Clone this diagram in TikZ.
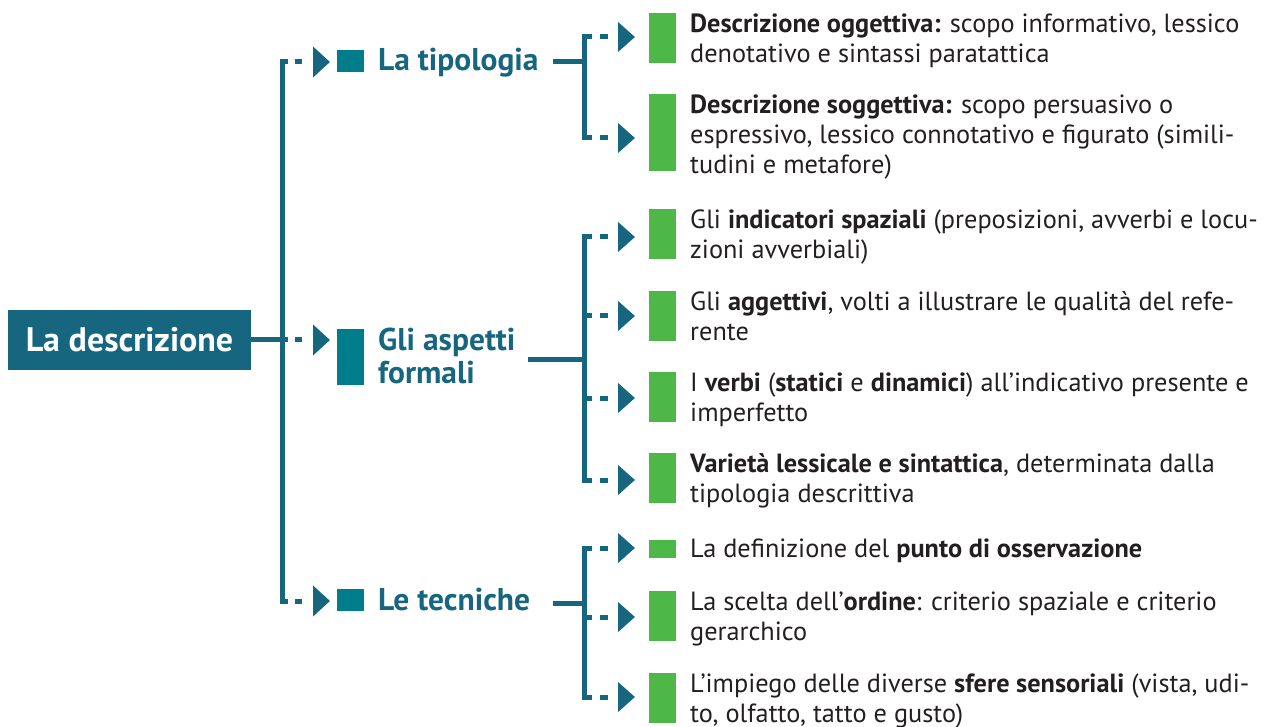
\documentclass[tikz,border=0pt]{standalone}
\usepackage{fontspec}
\setmainfont{PT Sans}
\usetikzlibrary{arrows.meta}
\definecolor{dblue}{RGB}{23,102,128}
\definecolor{sqteal}{RGB}{0,125,138}
\definecolor{bargreen}{RGB}{77,184,72}
\definecolor{txt}{RGB}{35,31,32}
\newcommand{\tstrut}{\rule{0pt}{22pt}}
\newcommand{\lstrut}{\rule{0pt}{27pt}}
\begin{document}
\begin{tikzpicture}[x=1pt,y=-1pt,
  conn/.style={draw=dblue, line width=5pt},
  ldash/.style={conn, dash pattern=on 6pt off 7pt on 7pt off 30pt, -{Triangle[length=17pt,width=30pt]}},
  rdash/.style={conn, dash pattern=on 8pt off 8pt on 8pt off 30pt, -{Triangle[length=17pt,width=29pt]}},
  bar/.style={fill=bargreen, minimum width=27pt, inner sep=0pt, anchor=north west},
  sq/.style={fill=sqteal, inner sep=0pt, minimum width=27pt, anchor=north west},
  item/.style={anchor=north west, inner sep=0pt, align=left, text=txt, font=\fontsize{26.3}{30}\selectfont},
  lab/.style={anchor=north west, inner sep=0pt, align=left, text=dblue, font=\bfseries\fontsize{31.5}{33}\selectfont},
]
\useasboundingbox (0,0) rectangle (1275,727);

% root
\node[fill=dblue, minimum width=243pt, minimum height=60pt, inner sep=0pt, text=white,
      font=\bfseries\fontsize{34}{38}\selectfont] (root) at (129.5,340) {La descrizione};

% trunk
\coordinate (t1) at (282,62);
\coordinate (t2) at (282,340);
\coordinate (t3) at (282,601);
\draw[conn] (root.east) -- (t2);
\draw[conn, line cap=rect] (t1) -- (t3);

% level-1 arrow tips
\coordinate (u1) at (330,62);
\coordinate (u2) at (330,340);
\coordinate (u3) at (330,601);
\draw[ldash] (t1) -- (u1);
\draw[ldash] (t2) -- (u2);
\draw[ldash] (t3) -- (u3);

% level-1 squares and labels
\node[sq, minimum height=22pt] (s1) at (337,50) {};
\node[sq, minimum height=56pt] (s2) at (337,329) {};
\node[sq, minimum height=22pt] (s3) at (337,589) {};
\node[lab] (l1) at (378,43) {\lstrut La tipologia};
\node[lab] (l2) at (378,323) {\lstrut Gli aspetti\\formali};
\node[lab] (l3) at (378,583) {\lstrut Le tecniche};

% feeders and brackets
\coordinate (f1) at (553,62);  \coordinate (j1) at (584,62);
\coordinate (f2) at (528,360); \coordinate (j2) at (584,360);
\coordinate (f3) at (553,603); \coordinate (j3) at (584,603);
\draw[conn] (f1) -- (j1);
\draw[conn] (f2) -- (j2);
\draw[conn] (f3) -- (j3);

\coordinate (b1) at (584,37);  \coordinate (b2) at (584,138);
\coordinate (b3) at (584,237); \coordinate (b4) at (584,316);
\coordinate (b5) at (584,398); \coordinate (b6) at (584,480);
\coordinate (b7) at (584,548); \coordinate (b8) at (584,617);
\coordinate (b9) at (584,697);
\draw[conn, line cap=rect] (b1) -- (b2);
\draw[conn, line cap=rect] (b3) -- (b6);
\draw[conn, line cap=rect] (b7) -- (b9);

\foreach \i/\y in {1/37,2/138,3/237,4/316,5/398,6/480,7/548,8/617,9/697}{
  \coordinate (a\i) at (635,\y);
  \draw[rdash] (b\i) -- (a\i);
}

% green bars
\node[bar, minimum height=50pt] (g1) at (649,13) {};
\node[bar, minimum height=77pt] (g2) at (649,94) {};
\node[bar, minimum height=50pt] (g3) at (649,209) {};
\node[bar, minimum height=50pt] (g4) at (649,291) {};
\node[bar, minimum height=50pt] (g5) at (649,372) {};
\node[bar, minimum height=50pt] (g6) at (649,453) {};
\node[bar, minimum height=18pt] (g7) at (649,540) {};
\node[bar, minimum height=50pt] (g8) at (649,591) {};
\node[bar, minimum height=50pt] (g9) at (649,673) {};

% texts
\node[item] (x1) at (690,10) {\tstrut\textbf{Descrizione oggettiva:} scopo informativo, lessico\\denotativo e sintassi paratattica};
\node[item] (x2) at (690,91) {\tstrut\textbf{Descrizione soggettiva:} scopo persuasivo o\\espressivo, lessico connotativo e figurato (simili-\\tudini e metafore)};
\node[item] (x3) at (690,206) {\tstrut Gli \textbf{indicatori spaziali} (preposizioni, avverbi e locu-\\zioni avverbiali)};
\node[item] (x4) at (690,288) {\tstrut Gli \textbf{aggettivi}, volti a illustrare le qualità del refe-\\rente};
\node[item] (x5) at (690,369) {\tstrut I \textbf{verbi} (\textbf{statici} e \textbf{dinamici}) all’indicativo presente e\\imperfetto};
\node[item] (x6) at (690,450) {\tstrut\textbf{Varietà lessicale e sintattica}, determinata dalla\\tipologia descrittiva};
\node[item] (x7) at (690,535) {\tstrut La definizione del \textbf{punto di osservazione}};
\node[item] (x8) at (690,588) {\tstrut La scelta dell’\textbf{ordine}: criterio spaziale e criterio\\gerarchico};
\node[item] (x9) at (690,670) {\tstrut L’impiego delle diverse \textbf{sfere sensoriali} (vista, udi-\\to, olfatto, tatto e gusto)};
\end{tikzpicture}
\end{document}
